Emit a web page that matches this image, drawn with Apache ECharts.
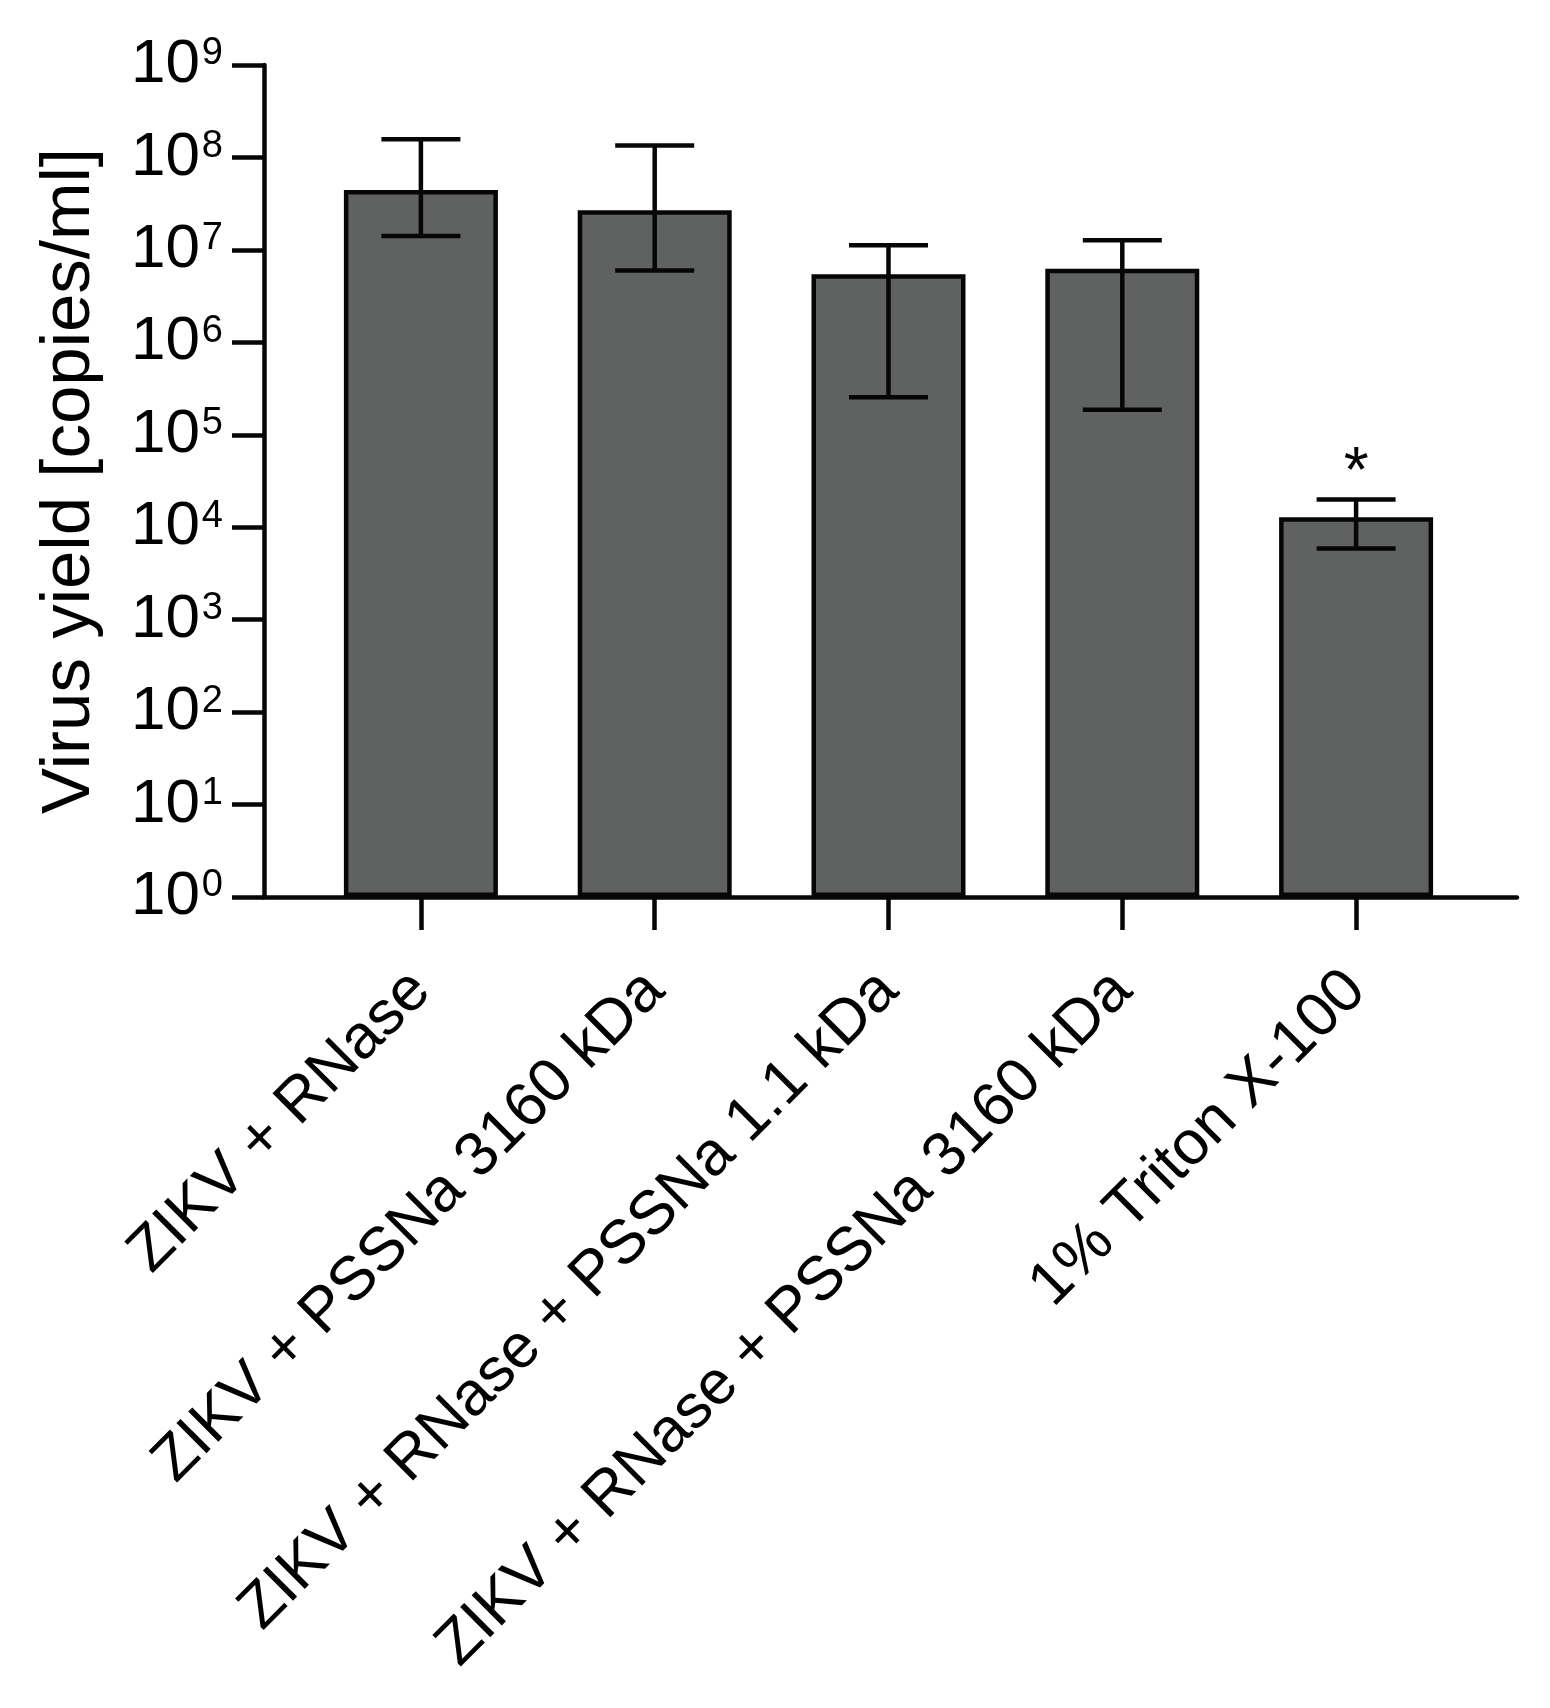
<!DOCTYPE html>
<html>
<head>
<meta charset="utf-8">
<style>
  html, body { margin: 0; padding: 0; background: #fff; }
  #chart { width: 1550px; height: 1708px; }
</style>
<script src="https://cdn.jsdelivr.net/npm/echarts@6/dist/echarts.min.js"></script>
</head>
<body>
<div id="chart"></div>
<script>
const categories = [
    "ZIKV + RNase",
    "ZIKV + PSSNa 3160 kDa",
    "ZIKV + RNase + PSSNa 1.1 kDa",
    "ZIKV + RNase + PSSNa 3160 kDa",
    "1% Triton X-100"
];
const means = [4.45e7, 2.68e7, 5.45e6, 6.25e6, 1.28e4];
const errLow = [1.41e7, 6.0e6, 2.55e5, 1.87e5, 5.9e3];
const errHigh = [1.57e8, 1.35e8, 1.12e7, 1.27e7, 2.0e4];
const marks = ["", "", "", "", "*"];

const FONT = "'Liberation Sans', Arial, sans-serif";
const INK = "#050605";

const chart = echarts.init(document.getElementById("chart"), null, { renderer: "canvas" });

function renderErrorBar(params, api) {
    const i = api.value(0);
    const top = api.coord([i, api.value(2)]);
    const bottom = api.coord([i, api.value(1)]);
    const half = 39.5;
    const style = { stroke: INK, lineWidth: 4.5 };
    const children = [
        { type: "line", shape: { x1: top[0], y1: top[1], x2: bottom[0], y2: bottom[1] }, style },
        { type: "line", shape: { x1: top[0] - half, y1: top[1], x2: top[0] + half, y2: top[1] }, style },
        { type: "line", shape: { x1: bottom[0] - half, y1: bottom[1], x2: bottom[0] + half, y2: bottom[1] }, style }
    ];
    const mark = marks[params.dataIndex];
    if (mark) {
        // significance star above the upper cap
        children.push({
            type: "text",
            style: {
                text: mark,
                x: top[0],
                y: top[1] + 7,
                align: "center",
                verticalAlign: "bottom",
                font: "64px " + FONT,
                fill: INK
            }
        });
    }
    return { type: "group", children };
}

const option = {
    animation: false,
    backgroundColor: "#fff",
    grid: [
        { left: 304, width: 1169, top: 65, height: 832 },
        { left: 264, width: 1253, top: 65, height: 832 }
    ],
    xAxis: [
        {
            type: "category",
            gridIndex: 0,
            data: categories,
            axisLine: { show: false },
            axisTick: {
                show: true,
                alignWithLabel: true,
                length: 33,
                lineStyle: { color: INK, width: 4.5 }
            },
            axisLabel: {
                rotate: 45,
                interval: 0,
                margin: 84,
                color: "#000",
                fontSize: 62,
                fontFamily: FONT
            }
        },
        {
            type: "value",
            gridIndex: 1,
            min: 0,
            max: 1,
            axisLine: { show: true, onZero: false, lineStyle: { color: INK, width: 4.5 } },
            axisTick: { show: false },
            axisLabel: { show: false },
            splitLine: { show: false }
        }
    ],
    yAxis: [
        {
            type: "log",
            gridIndex: 0,
            logBase: 10,
            min: 1,
            max: 1e9,
            show: false
        },
        {
            type: "log",
            gridIndex: 1,
            logBase: 10,
            min: 1,
            max: 1e9,
            splitNumber: 9,
            name: "Virus yield [copies/ml]",
            nameLocation: "middle",
            nameGap: 160,
            nameTextStyle: { color: "#000", fontSize: 69, fontFamily: FONT },
            axisLine: { show: true, lineStyle: { color: INK, width: 4.5 } },
            axisTick: { show: true, length: 32, lineStyle: { color: INK, width: 4.5 } },
            splitLine: { show: false },
            minorTick: { show: false },
            axisLabel: {
                margin: 41,
                formatter: value => `{b|10}{s|${Math.round(Math.log10(value))}}`,
                rich: {
                    b: { fontSize: 62, fontFamily: FONT, color: "#000" },
                    s: { fontSize: 38, fontFamily: FONT, color: "#000", padding: [0, 0, 22, 2] }
                }
            }
        }
    ],
    series: [
        {
            type: "bar",
            xAxisIndex: 0,
            yAxisIndex: 0,
            data: means,
            barWidth: 154,
            itemStyle: { color: "#5f6261", borderColor: INK, borderWidth: 4.5 },
            z: 2
        },
        {
            type: "custom",
            xAxisIndex: 0,
            yAxisIndex: 0,
            renderItem: renderErrorBar,
            data: categories.map((c, i) => [i, errLow[i], errHigh[i]]),
            z: 3
        }
    ]
};

chart.setOption(option);
</script>
</body>
</html>
